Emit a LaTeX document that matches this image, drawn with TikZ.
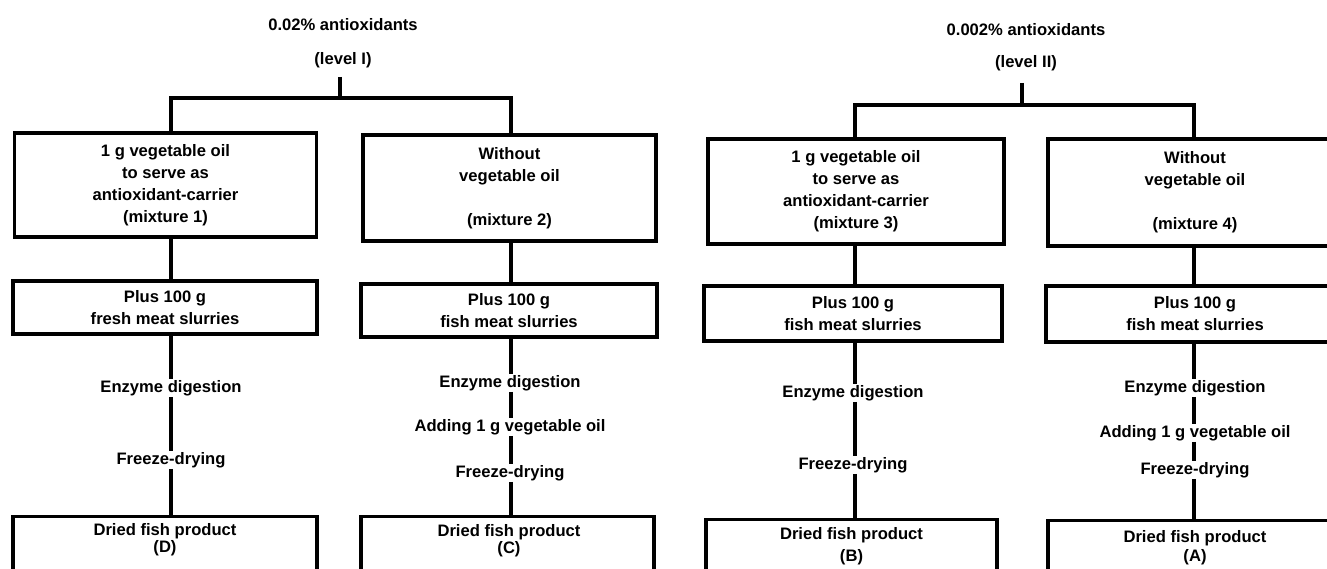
\documentclass[tikz,border=0pt]{standalone}
\usepackage{fontspec}
\setmainfont{Liberation Sans}
\newcommand\figfont{\fontsize{16.6}{22}\selectfont\bfseries}
\begin{document}
\begin{tikzpicture}[x=1pt,y=-1pt,
  procbox/.style={draw, line width=3.2pt, inner sep=0pt, align=center, font=\figfont},
  lbl/.style={inner sep=1pt, align=center, font=\figfont},
  conn/.style={line width=3.8pt}]
\useasboundingbox (0,0) rectangle (1327,569);
\clip (0,0) rectangle (1327,569);
\fill[white] (0,0) rectangle (1327,569);

% column x positions
\coordinate (col1) at (171,0);
\coordinate (col2) at (511,0);
\coordinate (col3) at (855,0);
\coordinate (col4) at (1194,0);

% ---------- Level I ----------
\node[lbl] (t1) at (343,25) {0.02\% antioxidants};
\node[lbl] (t1b) at (343,60) {(level I)};
\coordinate (s1) at (340,77);
\coordinate (bus1) at (340,98);

\node[procbox, minimum width=302pt, minimum height=104pt] (b1) at (165.5,185)
  {1 g vegetable oil\\to serve as\\antioxidant-carrier\\(mixture 1)};
\node[procbox, minimum width=293pt, minimum height=106pt] (b2) at (509.5,188)
  {Without\\vegetable oil\\~\\(mixture 2)};

\node[procbox, minimum width=304pt, minimum height=53pt] (p1) at (165,307.5)
  {Plus 100 g\\fresh meat slurries};
\node[procbox, minimum width=296pt, minimum height=53pt] (p2) at (509,310.5)
  {Plus 100 g\\fish meat slurries};

\node[lbl] (e1) at (171,388) {Enzyme digestion};
\node[lbl] (f1) at (171,460) {Freeze-drying};

\node[lbl] (e2) at (510,383) {Enzyme digestion};
\node[lbl] (a2) at (510,427) {Adding 1 g vegetable oil};
\node[lbl] (f2) at (510,473) {Freeze-drying};

\node[procbox, minimum width=304pt, minimum height=90pt, anchor=north] (d1) at (165,515) {};
\node[lbl] (d1t) at (165,540) {Dried fish product\\[-5pt](D)};
\node[procbox, minimum width=293pt, minimum height=90pt, anchor=north] (d2) at (507.5,515) {};
\node[lbl] (d2t) at (509,541) {Dried fish product\\[-5pt](C)};

% ---------- Level II ----------
\node[lbl] (t2) at (1026,30) {0.002\% antioxidants};
\node[lbl] (t2b) at (1026,63) {(level II)};
\coordinate (s2) at (1022,83);
\coordinate (bus2) at (1022,105);

\node[procbox, minimum width=296pt, minimum height=105pt] (b3) at (856,191.5)
  {1 g vegetable oil\\to serve as\\antioxidant-carrier\\(mixture 3)};
\node[procbox, minimum width=294pt, minimum height=107pt] (b4) at (1195,192.5)
  {Without\\vegetable oil\\~\\(mixture 4)};

\node[procbox, minimum width=298pt, minimum height=55pt] (p3) at (853,313.5)
  {Plus 100 g\\fish meat slurries};
\node[procbox, minimum width=298pt, minimum height=56pt] (p4) at (1195,314)
  {Plus 100 g\\fish meat slurries};

\node[lbl] (e3) at (853,393) {Enzyme digestion};
\node[lbl] (f3) at (853,465) {Freeze-drying};

\node[lbl] (e4) at (1195,388) {Enzyme digestion};
\node[lbl] (a4) at (1195,433) {Adding 1 g vegetable oil};
\node[lbl] (f4) at (1195,470) {Freeze-drying};

\node[procbox, minimum width=291pt, minimum height=90pt, anchor=north] (d3) at (851.5,518) {};
\node[lbl] (d3t) at (851.5,546.5) {Dried fish product\\(B)};
\node[procbox, minimum width=294pt, minimum height=90pt, anchor=north] (d4) at (1195,519) {};
\node[lbl] (d4t) at (1195,547.5) {Dried fish product\\[-3pt](A)};

% ---------- connectors ----------
\draw[conn] (s1) -- (bus1);
\draw[conn] (b1.north -| col1) |- (bus1) -| (b2.north -| col2);
\draw[conn] (b1.south -| col1) -- (p1.north -| col1);
\draw[conn] (p1.south -| col1) -- (e1.north -| col1);
\draw[conn] (e1.south -| col1) -- (f1.north -| col1);
\draw[conn] (f1.south -| col1) -- (d1.north -| col1);

\draw[conn] (b2.south -| col2) -- (p2.north -| col2);
\draw[conn] (p2.south -| col2) -- (e2.north -| col2);
\draw[conn] (e2.south -| col2) -- (a2.north -| col2);
\draw[conn] (a2.south -| col2) -- (f2.north -| col2);
\draw[conn] (f2.south -| col2) -- (d2.north -| col2);

\draw[conn] (s2) -- (bus2);
\draw[conn] (b3.north -| col3) |- (bus2) -| (b4.north -| col4);
\draw[conn] (b3.south -| col3) -- (p3.north -| col3);
\draw[conn] (p3.south -| col3) -- (e3.north -| col3);
\draw[conn] (e3.south -| col3) -- (f3.north -| col3);
\draw[conn] (f3.south -| col3) -- (d3.north -| col3);

\draw[conn] (b4.south -| col4) -- (p4.north -| col4);
\draw[conn] (p4.south -| col4) -- (e4.north -| col4);
\draw[conn] (e4.south -| col4) -- (a4.north -| col4);
\draw[conn] (a4.south -| col4) -- (f4.north -| col4);
\draw[conn] (f4.south -| col4) -- (d4.north -| col4);
\end{tikzpicture}
\end{document}
